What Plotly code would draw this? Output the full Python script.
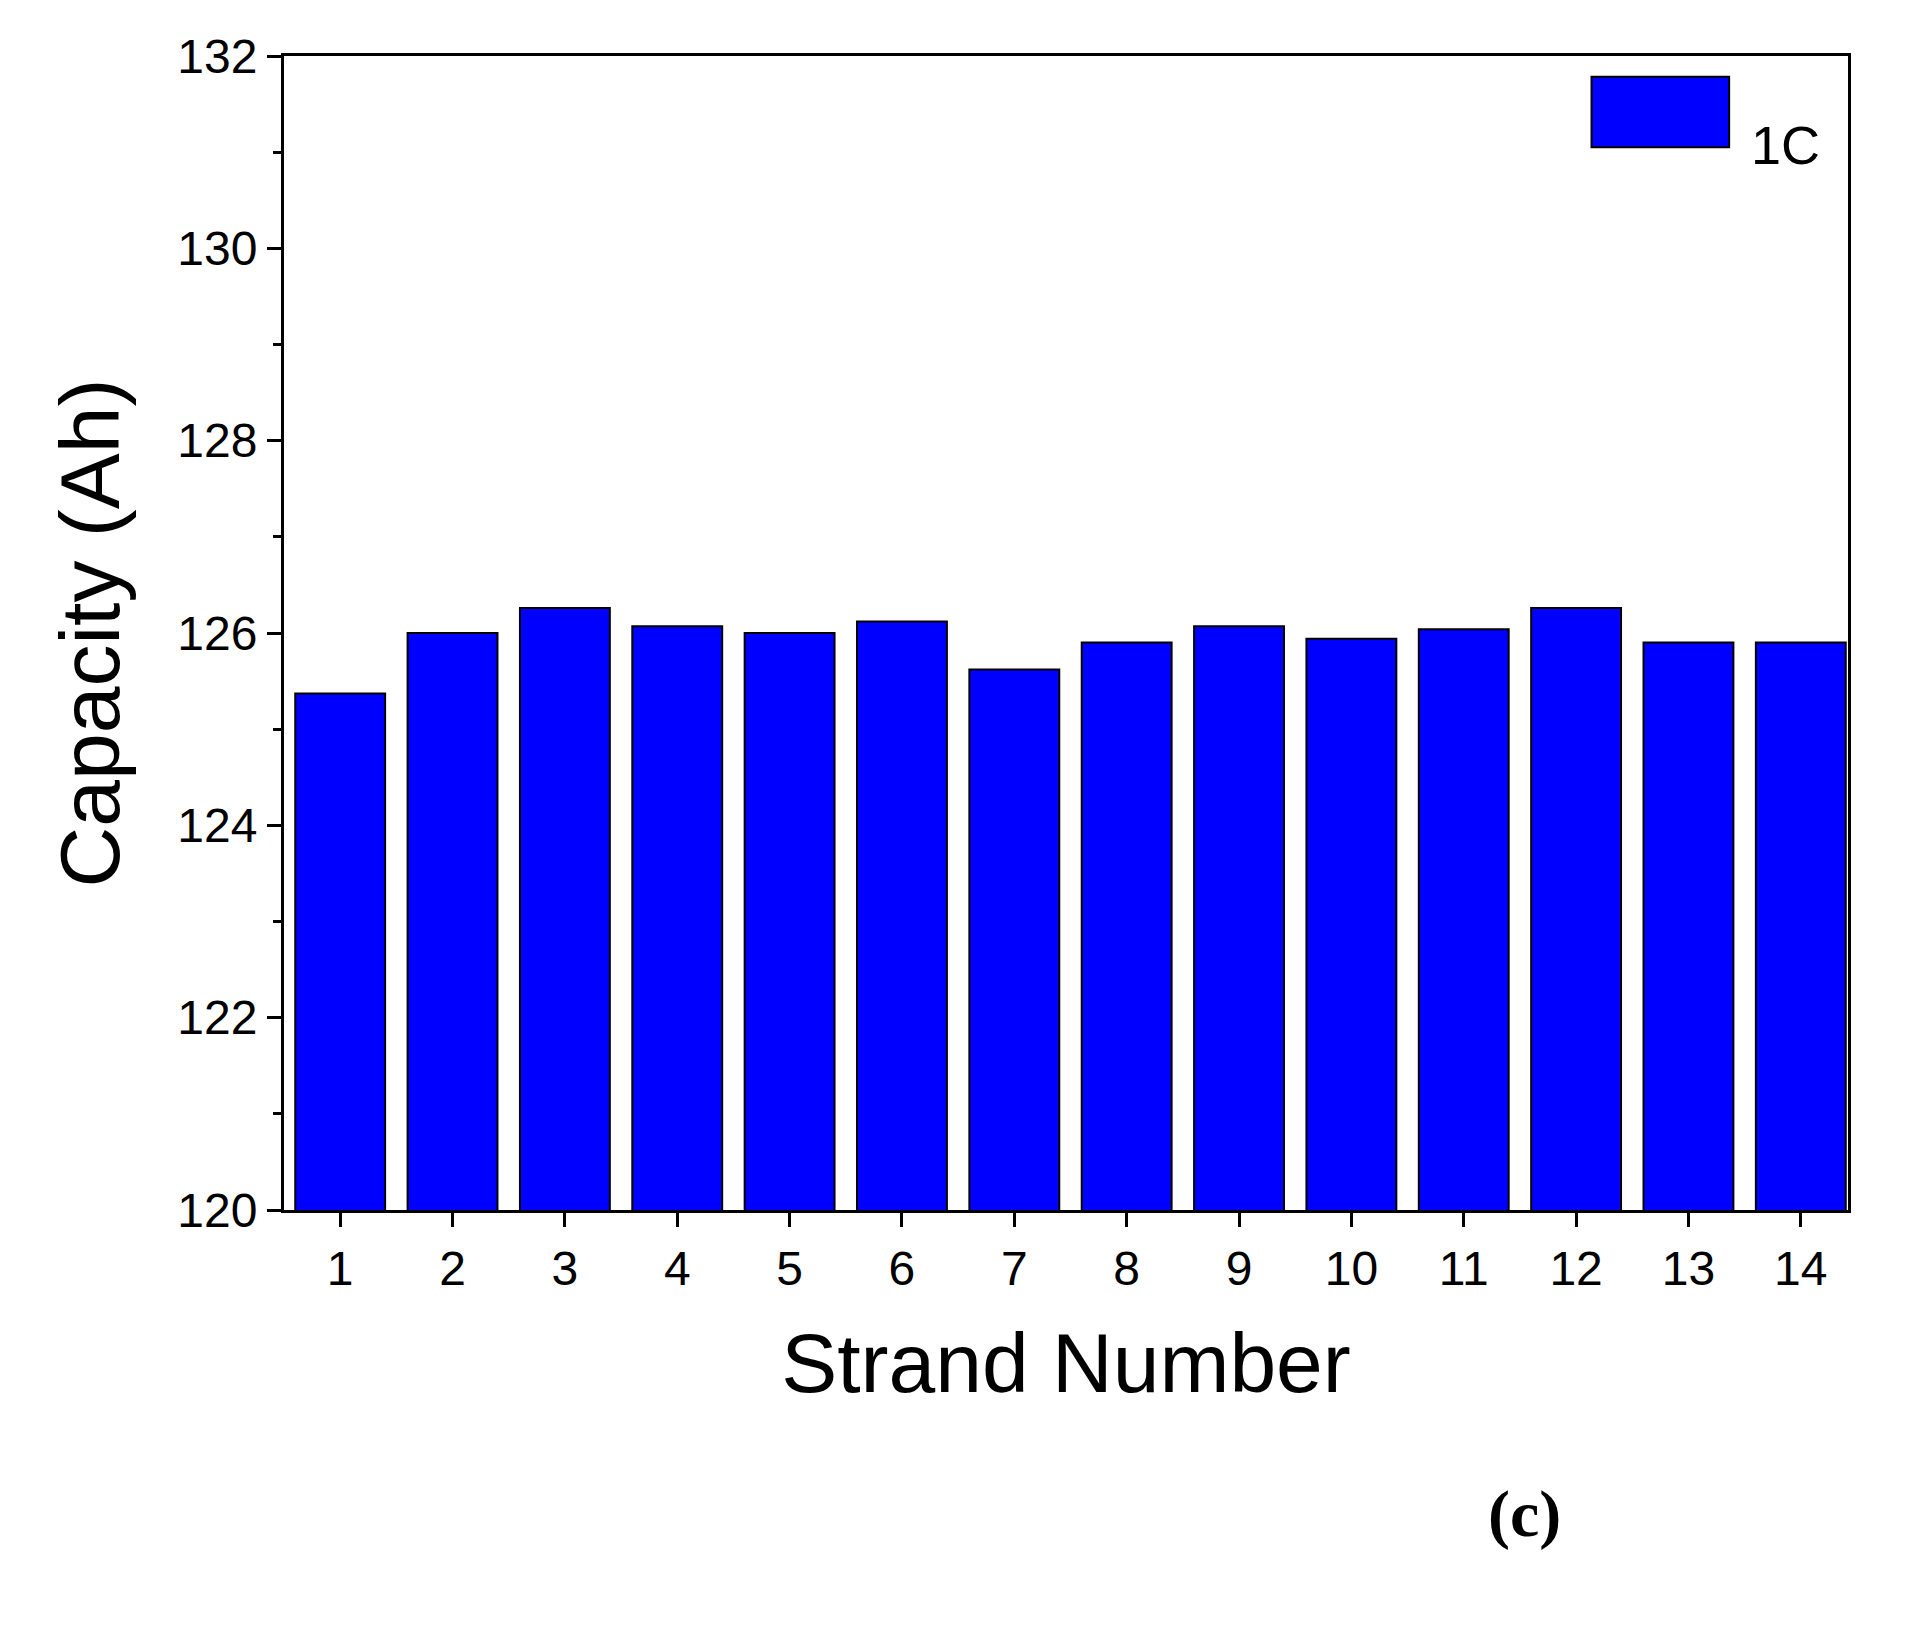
import plotly.graph_objects as go

strands = list(range(1, 15))
capacity = [125.37, 126.0, 126.26, 126.07, 126.0, 126.12, 125.62, 125.9, 126.07, 125.94, 126.04, 126.26, 125.9, 125.9]
y_ticks = [120, 122, 124, 126, 128, 130, 132]

fig = go.Figure(go.Bar(x=strands, y=capacity, base=0, name="1C", width=0.8,
                       marker=dict(color="#0000ff", line=dict(color="black", width=2))))
ax = dict(showline=True, linecolor="black", linewidth=3, mirror=True, ticks="outside",
          ticklen=14, tickwidth=3, tickcolor="black", showgrid=False, zeroline=False,
          tickfont=dict(family="Liberation Sans", size=48, color="black"))
fig.update_xaxes(**ax, range=[0.5, 14.42], tickvals=strands,
                 title=dict(text="Strand Number", font=dict(family="Liberation Sans", size=84, color="black"), standoff=40))
fig.update_yaxes(**ax, range=[120, 132], tickvals=y_ticks,
                 minor=dict(ticks="outside", ticklen=8, tickwidth=3, tickcolor="black", dtick=1),
                 title=dict(text="Capacity (Ah)", font=dict(family="Liberation Sans", size=84, color="black"), standoff=30))
fig.add_annotation(text="<b>(c)</b>", xref="paper", yref="paper", x=0.818, y=-0.297, showarrow=False,
                   font=dict(family="Liberation Serif", size=66, color="black"))
# legend key
fig.add_shape(type="rect", xref="paper", yref="paper", x0=0.836, x1=0.924, y0=0.921, y1=0.982,
              fillcolor="#0000ff", line=dict(color="black", width=2))
fig.add_annotation(text="1C", xref="paper", yref="paper", x=0.937, y=0.951, xanchor="left", showarrow=False,
                   font=dict(family="Liberation Sans", size=54, color="black"))
fig.update_layout(width=1925, height=1641, margin=dict(l=276, r=85, t=48, b=439),
                  plot_bgcolor="white", paper_bgcolor="white", showlegend=False)
fig.write_html("out.html")
